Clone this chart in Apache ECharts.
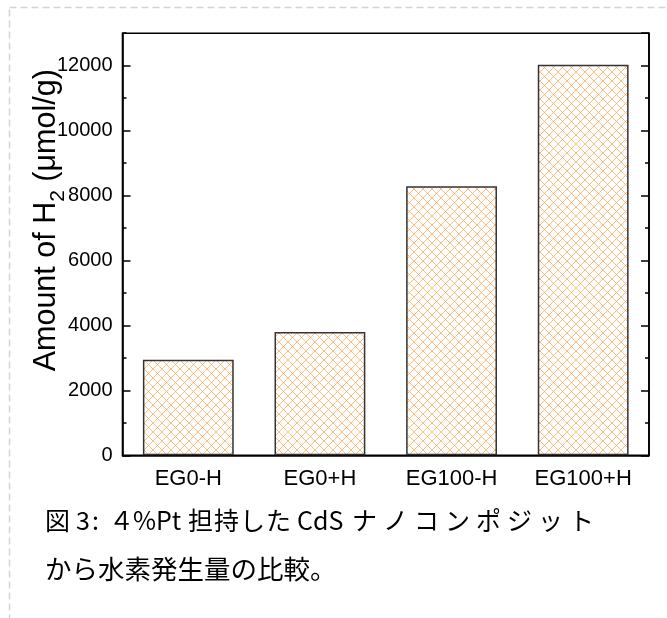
<!DOCTYPE html>
<html>
<head>
<meta charset="utf-8">
<script src="https://cdn.jsdelivr.net/npm/echarts@6/dist/echarts.min.js"></script>
<style>
  html, body { margin: 0; padding: 0; background: #fff; }
  #chart { width: 667px; height: 618px; }
</style>
</head>
<body>
<div id="chart"></div>
<script>
// Hydrogen evolution for the four samples
var categories = ['EG0-H', 'EG0+H', 'EG100-H', 'EG100+H'];
var h2Amount = [2940, 3800, 8290, 12030];
var yTickStep = 2000;
var yMinorStep = 1000;
var yMax = 13000;
var captionLine2 = 'から水素発生量の比較。';

// Orange cross-hatch fill for the bars
function makeHatch() {
  var s = 9;
  var c = document.createElement('canvas');
  c.width = s; c.height = s;
  var g = c.getContext('2d');
  g.strokeStyle = 'rgba(255,150,50,0.62)';
  g.lineWidth = 1;
  g.beginPath();
  g.moveTo(-1, -1); g.lineTo(s + 1, s + 1);
  g.moveTo(s + 1, -1); g.lineTo(-1, s + 1);
  g.stroke();
  return c;
}

var latin = '"Liberation Sans", Arial, sans-serif';
var cjk = '"Noto Sans CJK JP", sans-serif';

var chart = echarts.init(document.getElementById('chart'), null, { renderer: 'canvas' });

function yAxisDef(pos, step, tickLen, withLabels) {
  return {
    type: 'value',
    position: pos,
    min: 0,
    max: yMax,
    interval: step,
    axisLine: { show: withLabels, lineStyle: { color: '#000', width: 1.6 } },
    axisTick: { show: true, inside: true, length: tickLen, lineStyle: { color: '#000', width: 1.5 } },
    axisLabel: withLabels && pos === 'left' ? {
      show: true, showMaxLabel: false, margin: 10,
      color: '#000', fontSize: 20, fontFamily: latin,
      formatter: function (v) { return String(v); }
    } : { show: false },
    splitLine: { show: false }
  };
}

var yAxes = [
  yAxisDef('left', yTickStep, 8, true),
  yAxisDef('left', yMinorStep, 4, false),
  yAxisDef('right', yTickStep, 8, true),
  yAxisDef('right', yMinorStep, 4, false)
];
yAxes[0].name = '{a|Amount of H}{b|2}{a| (μmol/g)}';
yAxes[0].nameLocation = 'middle';
yAxes[0].nameRotate = 90;
yAxes[0].nameGap = 54;
yAxes[0].nameMoveOverlap = false;
yAxes[0].nameTextStyle = {
  color: '#000',
  fontFamily: latin,
  padding: [0, 0, 0, 48],
  rich: {
    a: { fontSize: 30.5, fontFamily: latin, color: '#000', lineHeight: 44 },
    b: { fontSize: 21, fontFamily: latin, color: '#000', lineHeight: 21, verticalAlign: 'bottom' }
  }
};

// Caption, first line set piece by piece with justified spacing: [text, left]
var captionLine1 = [
  ['図', 45], ['3', 76], [':', 92], ['４', 109], ['%Pt', 133],
  ['担', 188], ['持', 214], ['し', 240], ['た', 266], ['CdS', 297],
  ['ナ', 352], ['ノ', 383], ['コ', 414], ['ン', 445], ['ポ', 476], ['ジ', 507], ['ッ', 538], ['ト', 569]
];

var graphics = [{
  type: 'rect',
  silent: true,
  shape: { x: 9.5, y: 7.5, width: 720, height: 720 },
  style: { fill: 'none', stroke: '#d4d4d4', lineWidth: 1.5, lineDash: [7, 4] }
}];
captionLine1.forEach(function (p) {
  graphics.push({
    type: 'text', left: p[1], top: 508,
    style: { text: p[0], font: '25px ' + cjk, fill: '#000' }
  });
});
graphics.push({
  type: 'text', left: 45, top: 556,
  style: { text: captionLine2, font: '26.5px ' + cjk, fill: '#000' }
});

chart.setOption({
  animation: false,
  backgroundColor: '#fff',
  grid: {
    left: 122.5, right: 18, top: 33.2, bottom: 162.7,
    show: true, borderColor: '#000', borderWidth: 1.6, backgroundColor: 'transparent'
  },
  xAxis: {
    type: 'category',
    data: categories,
    axisLine: { show: true, lineStyle: { color: '#000', width: 1.6 } },
    axisTick: { show: false },
    axisLabel: { color: '#000', fontSize: 22, fontFamily: latin, margin: 13 }
  },
  yAxis: yAxes,
  series: [{
    type: 'bar',
    yAxisIndex: 0,
    data: h2Amount,
    barWidth: '69%',
    itemStyle: {
      color: { image: makeHatch(), repeat: 'repeat' },
      borderColor: '#333',
      borderWidth: 1.5
    }
  }],
  graphic: graphics
});
</script>
</body>
</html>
